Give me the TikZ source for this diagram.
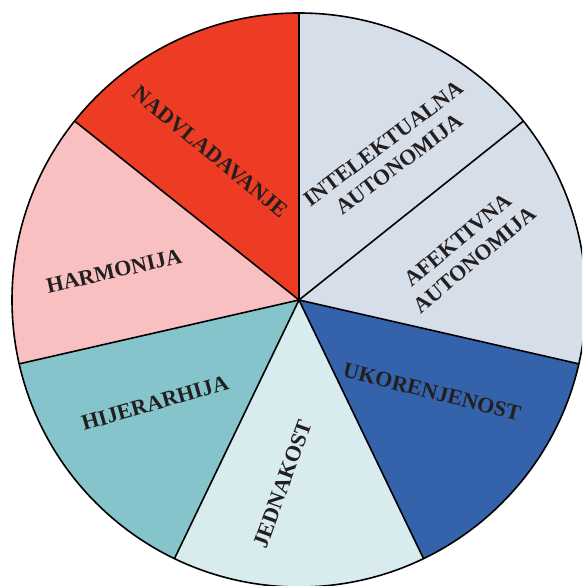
\documentclass[tikz,border=0pt]{standalone}
\usepackage{fontspec}
\setmainfont{Liberation Serif}
\definecolor{cInt}{HTML}{D6DEEA}
\definecolor{cNad}{HTML}{EE3B24}
\definecolor{cHar}{HTML}{F8C0C0}
\definecolor{cHij}{HTML}{86C4CC}
\definecolor{cJed}{HTML}{D8EBEF}
\definecolor{cUko}{HTML}{3563AB}
\definecolor{cTxt}{HTML}{231F20}
\tikzset{
  lbl/.style={text=cTxt, font=\bfseries\fontsize{22}{26}\selectfont, align=center, inner sep=0pt},
  slicefill/.style={fill=#1},
  edge/.style={draw=black, line width=1.6pt}
}
\begin{document}
\begin{tikzpicture}[x=1pt,y=1pt]
\clip (0,0) rectangle (582,586);
\fill[white] (0,0) rectangle (582,586);
\coordinate (c) at (299,286);
\def\R{287}
% slices
\foreach \a/\b/\col in {38.571/90/cInt, 90/141.429/cNad, 141.429/192.857/cHar, 192.857/244.286/cHij, 244.286/295.714/cJed, 295.714/347.143/cUko, 347.143/398.571/cInt}{
  \fill[slicefill=\col] (c) -- ++(\a:\R) arc[start angle=\a, end angle=\b, radius=\R] -- cycle;
}
% boundaries
\foreach \a in {38.571, 90, 141.429, 192.857, 244.286, 295.714, 347.143}{
  \draw[edge] (c) -- ++(\a:\R);
}
\draw[edge] (c) circle[radius=\R];
% labels
\node[lbl, rotate=-39.5] (nad) at (210,434) {NADVLADAVANJE};
\node[lbl, rotate=37] (int) at (391,432) {INTELEKTUALNA\\AUTONOMIJA};
\node[lbl, rotate=40] (afe) at (466,336) {AFEKTIVNA\\AUTONOMIJA};
\node[lbl, rotate=13] (har) at (114,315) {HARMONIJA};
\node[lbl, rotate=16] (hij) at (155,183) {HIJERARHIJA};
\node[lbl, rotate=70] (jed) at (283,102) {JEDNAKOST};
\node[lbl, rotate=-14] (uko) at (432,194) {UKORENJENOST};
\end{tikzpicture}
\end{document}
